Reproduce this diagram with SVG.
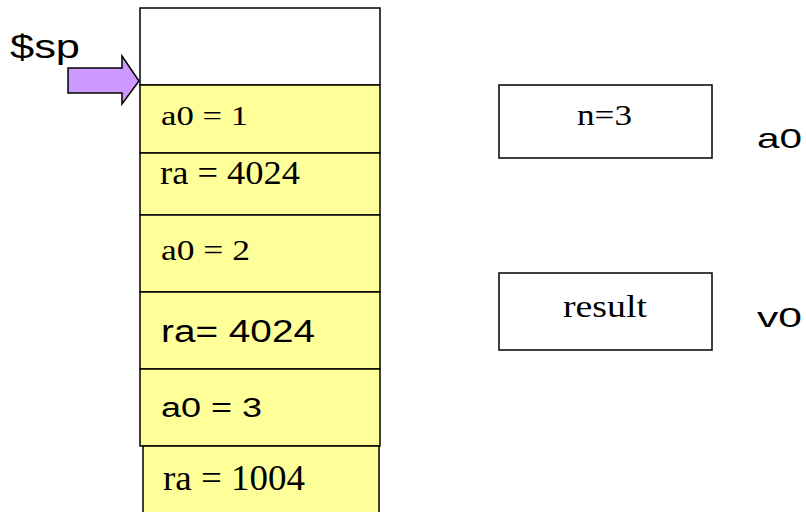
<svg xmlns="http://www.w3.org/2000/svg" width="806" height="512" viewBox="0 0 806 512">
<style>
.cell{fill:#FFFF99;stroke:#000;stroke-width:1.5}
.box{fill:#FFFFFF;stroke:#000;stroke-width:1.5}
.serif{font-family:"Liberation Serif","Times New Roman",serif;fill:#000}
.sans{font-family:"Liberation Sans",Arial,sans-serif;fill:#000}
</style>
<rect width="806" height="512" fill="#FFFFFF"/>
<g id="stack">
<g id="top"><rect class="box" x="140" y="8" width="240" height="77"/></g>
<g id="c1"><rect class="cell" x="140" y="85" width="240" height="68"/><text class="serif" x="161" y="125" font-size="28" textLength="87" lengthAdjust="spacingAndGlyphs">a0 = 1</text></g>
<g id="c2"><rect class="cell" x="140" y="153" width="240" height="62"/><text class="serif" x="160" y="184" font-size="34" textLength="140" lengthAdjust="spacingAndGlyphs">ra = 4024</text></g>
<g id="c3"><rect class="cell" x="140" y="215" width="240" height="77"/><text class="serif" x="161" y="260" font-size="29" textLength="89" lengthAdjust="spacingAndGlyphs">a0 = 2</text></g>
<g id="c4"><rect class="cell" x="140" y="292" width="240" height="77"/><text class="sans" x="161" y="342" font-size="31" textLength="154" lengthAdjust="spacingAndGlyphs">ra= 4024</text></g>
<g id="c5"><rect class="cell" x="140" y="369" width="240" height="77"/><text class="sans" x="161" y="417" font-size="27" textLength="101" lengthAdjust="spacingAndGlyphs">a0 = 3</text></g>
<g id="c6"><rect class="cell" x="143" y="446" width="236" height="70"/><text class="serif" x="163" y="490" font-size="36" textLength="142" lengthAdjust="spacingAndGlyphs">ra = 1004</text></g>
</g>
<g id="sp">
<text class="sans" x="10" y="58" font-size="33" textLength="70" lengthAdjust="spacingAndGlyphs">$sp</text>
<polygon points="68,68 122,68 122,56 139,81 122,104 122,93 68,93" fill="#CC99FF" stroke="#000" stroke-width="1.5" stroke-linejoin="miter"/>
</g>
<g id="n3">
<rect class="box" x="499" y="85" width="213" height="73"/>
<text class="serif" x="577" y="125" font-size="29" textLength="55" lengthAdjust="spacingAndGlyphs">n=3</text>
</g>
<g id="result">
<rect class="box" x="499" y="273" width="213" height="77"/>
<text class="serif" x="563" y="317" font-size="31" textLength="84" lengthAdjust="spacingAndGlyphs">result</text>
</g>
<g id="labels">
<text class="sans" x="757" y="148" font-size="28" textLength="45" lengthAdjust="spacingAndGlyphs">a0</text>
<text class="sans" x="757" y="327" font-size="28" textLength="45" lengthAdjust="spacingAndGlyphs">v0</text>
</g>
</svg>
